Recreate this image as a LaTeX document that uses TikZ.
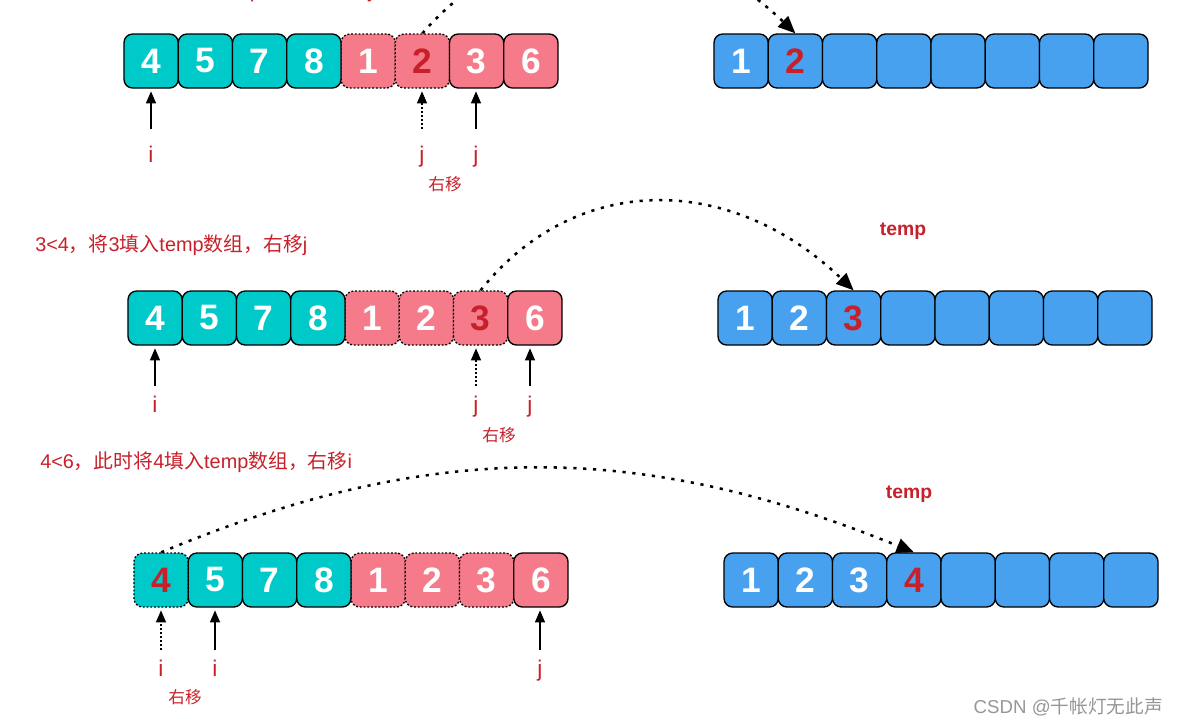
\documentclass[tikz,border=0pt]{standalone}
\usepackage{fontspec}
\setmainfont{Liberation Sans}
\newfontfamily\cjk{Noto Sans CJK SC}
\usetikzlibrary{arrows.meta}
\definecolor{teal1}{RGB}{0,201,201}
\definecolor{pink1}{RGB}{246,123,138}
\definecolor{blue1}{RGB}{71,161,238}
\definecolor{red1}{RGB}{200,32,42}
\definecolor{wm}{RGB}{150,150,150}
\tikzset{
  cell/.style={draw=black, line width=1pt, rounded corners=6.5pt, minimum width=40.7pt, minimum height=40.5pt, inner sep=0pt, font=\fontsize{26.5}{26.5}\selectfont\bfseries},
  dcell/.style={cell, dash pattern=on 1.4pt off 1.4pt},
  lbl/.style={text=red1, font=\fontsize{17}{17}\selectfont, inner sep=0pt, anchor=base},
  shiftlbl/.style={text=red1, font=\cjk\fontsize{12.5}{12.5}\selectfont, inner sep=0pt},
  head/.style={text=red1, font=\fontsize{14.9}{14.9}\selectfont, inner sep=0pt, anchor=west},
  templ/.style={text=red1, font=\fontsize{14.5}{14.5}\selectfont\bfseries, inner sep=0pt},
  ptr/.style={line width=0.9pt, shorten >=2pt, -{Triangle[length=9pt,width=7.5pt]}},
  dptr/.style={ptr, dash pattern=on 1.3pt off 1.7pt},
  jump/.style={line width=1.9pt, dash pattern=on 2.4pt off 5pt, -{Triangle[length=13pt,width=11pt]}},
}
% style, fill, text colour, name, x0, index, y, digit
\newcommand\mk[8]{\node[#1, fill=#2, text=#3] (#4) at ({#5+54.25*(#6+0.5)},#7) {#8};}
\begin{document}
\begin{tikzpicture}[x=0.75pt,y=-0.75pt]
\useasboundingbox (0,0) rectangle (1179,726);

% ---------- clipped header of row 1 ----------
\node[text=red1, font=\fontsize{16}{16}\selectfont, inner sep=0pt, anchor=base west] (h1) at (38,-3) {2<4{\cjk ，此时将}2{\cjk 填入}temp{\cjk 数组，右移}j};

% ---------- row 1 ----------
\mk{dcell}{pink1}{white}{r1l4}{124}{4}{61}{1}
\mk{dcell}{pink1}{red1}{r1l5}{124}{5}{61}{2}
\mk{cell}{teal1}{white}{r1l0}{124}{0}{61}{4}
\mk{cell}{teal1}{white}{r1l1}{124}{1}{61}{5}
\mk{cell}{teal1}{white}{r1l2}{124}{2}{61}{7}
\mk{cell}{teal1}{white}{r1l3}{124}{3}{61}{8}
\mk{cell}{pink1}{white}{r1l6}{124}{6}{61}{3}
\mk{cell}{pink1}{white}{r1l7}{124}{7}{61}{6}

\mk{cell}{blue1}{white}{r1r0}{714}{0}{61}{1}
\mk{cell}{blue1}{red1}{r1r1}{714}{1}{61}{2}
\mk{cell}{blue1}{white}{r1r2}{714}{2}{61}{}
\mk{cell}{blue1}{white}{r1r3}{714}{3}{61}{}
\mk{cell}{blue1}{white}{r1r4}{714}{4}{61}{}
\mk{cell}{blue1}{white}{r1r5}{714}{5}{61}{}
\mk{cell}{blue1}{white}{r1r6}{714}{6}{61}{}
\mk{cell}{blue1}{white}{r1r7}{714}{7}{61}{}

\node[lbl] (l1i) at (151,162) {i};
\node[lbl] (l1ja) at (422,162) {j};
\node[lbl] (l1jb) at (476,162) {j};
\node[shiftlbl] (s1) at (445,184) {右移};
\coordinate (a1i) at (151,129);
\coordinate (a1ja) at (422,129);
\coordinate (a1jb) at (476,129);
\draw[ptr] (a1i) -- (a1i |- r1l0.south);
\draw[dptr] (a1ja) -- (a1ja |- r1l5.south);
\draw[ptr] (a1jb) -- (a1jb |- r1l6.south);
\draw[jump] (r1l5.north) .. controls (524,-83) and (674,-83) .. (r1r1.north);

% ---------- row 2 ----------
\node[head] (h2) at (35,245) {3<4{\cjk ，将}3{\cjk 填入}temp{\cjk 数组，右移}j};
\node[templ] (t2) at (903,231) {temp};

\mk{dcell}{pink1}{white}{r2l4}{128}{4}{318}{1}
\mk{dcell}{pink1}{white}{r2l5}{128}{5}{318}{2}
\mk{dcell}{pink1}{red1}{r2l6}{128}{6}{318}{3}
\mk{cell}{teal1}{white}{r2l0}{128}{0}{318}{4}
\mk{cell}{teal1}{white}{r2l1}{128}{1}{318}{5}
\mk{cell}{teal1}{white}{r2l2}{128}{2}{318}{7}
\mk{cell}{teal1}{white}{r2l3}{128}{3}{318}{8}
\mk{cell}{pink1}{white}{r2l7}{128}{7}{318}{6}

\mk{cell}{blue1}{white}{r2r0}{718}{0}{318}{1}
\mk{cell}{blue1}{white}{r2r1}{718}{1}{318}{2}
\mk{cell}{blue1}{red1}{r2r2}{718}{2}{318}{3}
\mk{cell}{blue1}{white}{r2r3}{718}{3}{318}{}
\mk{cell}{blue1}{white}{r2r4}{718}{4}{318}{}
\mk{cell}{blue1}{white}{r2r5}{718}{5}{318}{}
\mk{cell}{blue1}{white}{r2r6}{718}{6}{318}{}
\mk{cell}{blue1}{white}{r2r7}{718}{7}{318}{}

\node[lbl] (l2i) at (155,412) {i};
\node[lbl] (l2ja) at (476,412) {j};
\node[lbl] (l2jb) at (530,412) {j};
\node[shiftlbl] (s2) at (499,435) {右移};
\coordinate (a2i) at (155,386);
\coordinate (a2ja) at (476,386);
\coordinate (a2jb) at (530,386);
\draw[ptr] (a2i) -- (a2i |- r2l0.south);
\draw[dptr] (a2ja) -- (a2ja |- r2l6.south);
\draw[ptr] (a2jb) -- (a2jb |- r2l7.south);
\draw[jump] (r2l6.north) .. controls (575,172) and (730,172) .. (r2r2.north);

% ---------- row 3 ----------
\node[head] (h3) at (40,462) {4<6{\cjk ，此时将}4{\cjk 填入}temp{\cjk 数组，右移}i};
\node[templ] (t3) at (909,494) {temp};

\mk{dcell}{teal1}{red1}{r3l0}{134}{0}{580}{4}
\mk{dcell}{pink1}{white}{r3l4}{134}{4}{580}{1}
\mk{dcell}{pink1}{white}{r3l5}{134}{5}{580}{2}
\mk{dcell}{pink1}{white}{r3l6}{134}{6}{580}{3}
\mk{cell}{teal1}{white}{r3l1}{134}{1}{580}{5}
\mk{cell}{teal1}{white}{r3l2}{134}{2}{580}{7}
\mk{cell}{teal1}{white}{r3l3}{134}{3}{580}{8}
\mk{cell}{pink1}{white}{r3l7}{134}{7}{580}{6}

\mk{cell}{blue1}{white}{r3r0}{724}{0}{580}{1}
\mk{cell}{blue1}{white}{r3r1}{724}{1}{580}{2}
\mk{cell}{blue1}{white}{r3r2}{724}{2}{580}{3}
\mk{cell}{blue1}{red1}{r3r3}{724}{3}{580}{4}
\mk{cell}{blue1}{white}{r3r4}{724}{4}{580}{}
\mk{cell}{blue1}{white}{r3r5}{724}{5}{580}{}
\mk{cell}{blue1}{white}{r3r6}{724}{6}{580}{}
\mk{cell}{blue1}{white}{r3r7}{724}{7}{580}{}

\node[lbl] (l3ia) at (161,676) {i};
\node[lbl] (l3ib) at (215,676) {i};
\node[lbl] (l3j) at (540,676) {j};
\node[shiftlbl] (s3) at (185,697) {右移};
\coordinate (a3ia) at (161,650);
\coordinate (a3ib) at (215,650);
\coordinate (a3j) at (540,650);
\draw[dptr] (a3ia) -- (a3ia |- r3l0.south);
\draw[ptr] (a3ib) -- (a3ib |- r3l1.south);
\draw[ptr] (a3j) -- (a3j |- r3l7.south);
\draw[jump] (r3l0.north) .. controls (430,440) and (638,440) .. (r3r3.north);

% ---------- watermark ----------
\node[text=wm, font=\fontsize{14}{14}\selectfont, inner sep=0pt, anchor=east] (wmk) at (1163,707) {CSDN @{\cjk 千帐灯无此声}};
\end{tikzpicture}
\end{document}
